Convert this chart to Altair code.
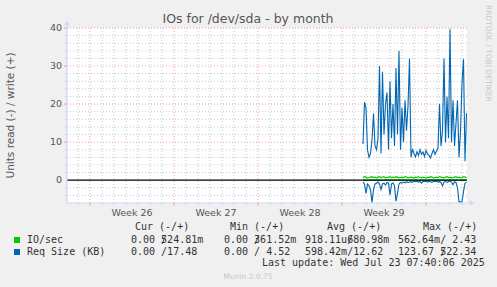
import altair as alt
import pandas as pd

# ---------------- data ----------------
first_sample_day = 22.75   # days after Monday of week 26
sample_step_day = 0.125    # 3-hour samples

req_write_kb = [9.5, 20.5, 19, 8, 6, 7, 10.5, 17.5, 9, 8,
                11, 30, 7, 28.5, 12, 20, 23, 8, 26, 11,
                20, 9, 29.5, 12, 34, 8, 19, 10, 21, 13,
                19.5, 32, 6, 8.2, 7, 6.1, 7.5, 6.5, 8, 6.8,
                7.4, 6.2, 7.8, 6.9, 6.5, 5.8, 7, 8, 6.8, 7.6,
                8.5, 20, 9, 13, 32, 10, 22, 11, 39.7, 10,
                21, 9, 15, 21, 6, 13, 25.5, 31.8, 5, 17.6]
req_read_kb = [-0.5, -1, -3.5, -1, -1.5, -2.5, -5.9, -2.5, -1, -0.8,
               -0.5, -1, -2.5, -1, -0.8, -1.3, -0.6, -0.8, -3.9, -1,
               -0.7, -1.5, -5.5, -3.5, -1, -0.6, -0.8, -0.5, -0.7, -0.4,
               -0.6, -0.5, -0.4, -0.6, -0.3, -0.4, -0.3, -0.5, -0.3, -0.8,
               -0.3, -0.4, -0.3, -0.5, -0.3, -0.4, -0.6, -0.3, -0.4, -0.3,
               -0.5, -0.4, -0.6, -1.5, -0.5, -0.3, -0.6, -0.4, -0.3, -0.5,
               -1.2, -0.4, -0.6, -2, -5.7, -5.7, -5.6, -3, -0.8, -0.5]
io_write = [0.7, 0.9, 0.8, 0.6, 0.7, 0.8, 0.9, 0.7, 0.8, 0.6,
            0.8, 0.9, 0.7, 0.8, 0.9, 0.6, 0.7, 0.8, 0.9, 0.7,
            0.8, 0.7, 0.9, 0.8, 0.6, 0.7, 0.8, 0.7, 0.9, 0.8,
            0.6, 0.7, 0.8, 0.7, 0.6, 0.8, 0.7, 0.9, 0.7, 0.6,
            0.8, 0.7, 0.6, 0.8, 0.7, 0.9, 0.8, 0.6, 0.7, 0.8,
            0.7, 0.9, 0.8, 0.7, 0.6, 0.8, 0.9, 0.7, 0.8, 0.6,
            0.7, 0.8, 0.9, 0.7, 0.8, 0.6, 0.7, 0.9, 0.8, 0.7]
io_read = [-0.01, 0, -0.02, 0, -0.01, 0, 0, -0.01, 0, 0,
           -0.01, 0, 0, -0.02, 0, 0, -0.01, 0, 0, 0,
           -0.01, 0, 0, 0, -0.01, 0, 0, 0, 0, -0.01,
           0, 0, 0, -0.01, 0, 0, 0, 0, -0.01, 0,
           0, 0, -0.01, 0, 0, 0, 0, 0, -0.01, 0,
           0, 0, 0, -0.01, 0, 0, 0, -0.01, 0, 0,
           -0.01, 0, 0, 0, -0.02, 0, 0, -0.01, 0, 0]

week_labels = ["Week 26", "Week 27", "Week 28", "Week 29"]
week_starts = [0, 7, 14, 21]
y_tick_values = [0, 10, 20, 30, 40]
y_tick_labels = ["0", "10", "20", "30", "40"]

legend_names = ["IO/sec", "Req Size (KB)"]
legend_colors = ["#00CC00", "#0066B3"]
col_headers = ["Cur (-/+)", "Min (-/+)", "Avg (-/+)", "Max (-/+)"]
io_stats = ["0.00 524.81m", "0.00 361.52m", "918.11u680.98m", "562.64m/ 2.43"]
req_stats = ["0.00 /17.48", "0.00 / 4.52", "598.42m/12.62", "123.67 522.34"]
overstruck = [(0, 0, 5), (0, 1, 5), (0, 2, 7), (1, 3, 7)]  # (row, col, char index) with a "/" drawn over
last_update = "Last update: Wed Jul 23 07:40:06 2025"
munin_version = "Munin 2.0.75"
title_text = "IOs for /dev/sda - by month"
y_title = "Units read (-) / write (+)"
side_text = "RRDTOOL / TOBI OETIKER"

# ---------------- layout / style ----------------
W, H = 400, 175
PAD_L, PAD_T = 67, 28
X_DOMAIN = [-23 / 12, 377 / 12]
Y_DOMAIN = [-6, 40]
AXIS_C = "#CFD6F8"
GRID_C = "#C8C8C8"
MGRID_C = "#F0A0A0"
FONT_C = "#555555"
MONO_C = "#333333"
CHAR_W = 6.02

xs = alt.Scale(domain=X_DOMAIN, nice=False, zero=False)
ys = alt.Scale(domain=Y_DOMAIN, nice=False, zero=False)

n = len(req_write_kb)
days = [first_sample_day + sample_step_day * i for i in range(n)]


def series_frame(values, part):
    return pd.DataFrame({"day": days, "value": values, "part": part})


green_df = pd.concat([series_frame(io_read, "r"), series_frame(io_write, "w")])
blue_df = pd.concat([series_frame(req_read_kb, "r"), series_frame(req_write_kb, "w")])

minor_days = pd.DataFrame({"d": [d for d in range(-1, 32) if d % 7 != 0]})
major_days = pd.DataFrame({"d": [0, 7, 14, 21, 28]})
minor_y = pd.DataFrame({"v": [v for v in range(-4, 40, 2) if v % 10 != 0]})
major_y = pd.DataFrame({"v": [10, 20, 30, 40]})

layers = []

# grid
layers.append(alt.Chart(minor_days).mark_rule(color=GRID_C, strokeDash=[1, 2], strokeWidth=1).encode(
    x=alt.X("d:Q", scale=xs, axis=None)))
layers.append(alt.Chart(minor_y).mark_rule(color=GRID_C, strokeDash=[1, 2], strokeWidth=1).encode(
    y=alt.Y("v:Q", scale=ys, axis=None)))
layers.append(alt.Chart(major_days).mark_rule(color=MGRID_C, strokeDash=[1, 2], strokeWidth=1).encode(
    x=alt.X("d:Q", scale=xs, axis=None)))
layers.append(alt.Chart(major_y).mark_rule(color=MGRID_C, strokeDash=[1, 2], strokeWidth=1).encode(
    y=alt.Y("v:Q", scale=ys, axis=None)))

# small ticks on the axes
layers.append(alt.Chart(minor_days).mark_rule(color=AXIS_C).encode(
    x=alt.X("d:Q", scale=xs, axis=None), y=alt.value(H), y2=alt.value(H + 2)))
layers.append(alt.Chart(major_days).mark_rule(color=MGRID_C).encode(
    x=alt.X("d:Q", scale=xs, axis=None), y=alt.value(H), y2=alt.value(H + 3)))
layers.append(alt.Chart(minor_y).mark_rule(color=AXIS_C).encode(
    y=alt.Y("v:Q", scale=ys, axis=None), x=alt.value(-2), x2=alt.value(0)))
layers.append(alt.Chart(major_y).mark_rule(color=MGRID_C).encode(
    y=alt.Y("v:Q", scale=ys, axis=None), x=alt.value(-3), x2=alt.value(0)))

# series
layers.append(alt.Chart(green_df).mark_line(strokeWidth=1.2, color=legend_colors[0]).encode(
    x=alt.X("day:Q", scale=xs, axis=None),
    y=alt.Y("value:Q", scale=ys, axis=None),
    detail="part:N", order="day:Q"))
layers.append(alt.Chart(blue_df).mark_line(strokeWidth=1.1, color=legend_colors[1]).encode(
    x=alt.X("day:Q", scale=xs, axis=None),
    y=alt.Y("value:Q", scale=ys, axis=None),
    detail="part:N", order="day:Q"))

# zero line
layers.append(alt.Chart(pd.DataFrame({"v": [0]})).mark_rule(color="#000000", strokeWidth=1.2).encode(
    y=alt.Y("v:Q", scale=ys, axis=None)))

# axis lines with arrows
layers.append(alt.Chart(pd.DataFrame({"a": [0]})).mark_rule(color=AXIS_C, strokeWidth=1.2).encode(
    x=alt.value(0), y=alt.value(-4), y2=alt.value(H)))
layers.append(alt.Chart(pd.DataFrame({"a": [0]})).mark_rule(color=AXIS_C, strokeWidth=1.2).encode(
    y=alt.value(H), x=alt.value(0), x2=alt.value(W + 4)))
layers.append(alt.Chart(pd.DataFrame({"a": [0]})).mark_point(shape="triangle-up", filled=True, size=30,
                                                             color=AXIS_C, opacity=1).encode(
    x=alt.value(0), y=alt.value(-5)))
layers.append(alt.Chart(pd.DataFrame({"a": [0]})).mark_point(shape="triangle-right", filled=True, size=30,
                                                             color=AXIS_C, opacity=1).encode(
    x=alt.value(W + 5), y=alt.value(H)))

# y tick labels
yt = pd.DataFrame({"v": y_tick_values, "label": y_tick_labels})
layers.append(alt.Chart(yt).mark_text(font="DejaVu Sans", fontSize=9.5, color=FONT_C,
                                      align="right", baseline="middle").encode(
    y=alt.Y("v:Q", scale=ys, axis=None), x=alt.value(-5), text="label:N"))

# week labels
wk = pd.DataFrame({"label": week_labels, "mid": [s + 3.5 for s in week_starts]})
layers.append(alt.Chart(wk).mark_text(font="DejaVu Sans", fontSize=9.5, color=FONT_C,
                                      align="center", baseline="middle").encode(
    x=alt.X("mid:Q", scale=xs, axis=None), y=alt.value(185), text="label:N"))


def txt(s, x, y, font="DejaVu Sans Mono", size=10, color=MONO_C, align="left", angle=0):
    return alt.Chart(pd.DataFrame({"t": [s]})).mark_text(
        font=font, fontSize=size, color=color, align=align, baseline="middle", angle=angle
    ).encode(x=alt.value(x), y=alt.value(y), text="t:N")


# titles and side text
layers.append(txt(title_text, 181, -9, font="DejaVu Sans", size=12.5, color=FONT_C, align="center"))
layers.append(txt(y_title, -56, H / 2 + 28 - 28, font="DejaVu Sans", size=10.5, color=FONT_C,
                  align="center", angle=270))
layers.append(txt(side_text, 421, -23, font="DejaVu Sans", size=7.5, color="#C8C8C8", angle=90))

# legend
header_x = [68, 163, 260, 356]
value_x = [64, 157, 238, 331]
row_y = [212, 224]
for hx, h in zip(header_x, col_headers):
    layers.append(txt(h, hx, 199))
for r, (name, col, stats) in enumerate(zip(legend_names, legend_colors, [io_stats, req_stats])):
    layers.append(alt.Chart(pd.DataFrame({"a": [0]})).mark_square(size=36, color=col, opacity=1).encode(
        x=alt.value(-50), y=alt.value(row_y[r])))
    layers.append(txt(name, -40, row_y[r]))
    for vx, s in zip(value_x, stats):
        layers.append(txt(s, vx, row_y[r]))
for r, c, idx in overstruck:
    layers.append(txt("/", value_x[c] + CHAR_W * idx, row_y[r]))
layers.append(txt(last_update, 195, 235))
layers.append(txt(munin_version, 181, 248.5, font="DejaVu Sans", size=7.5, color="#C8C8C8", align="center"))

chart = alt.layer(*layers).properties(
    width=W, height=H,
    autosize=alt.AutoSizeParams(type="none"),
    padding={"left": PAD_L, "top": PAD_T, "right": 497 - PAD_L - W, "bottom": 287 - PAD_T - H},
    background="#F0F0F0",
).configure_view(fill="#FFFFFF", stroke=None)

chart.save("out.html", embed_options={"renderer": "svg", "actions": False})
